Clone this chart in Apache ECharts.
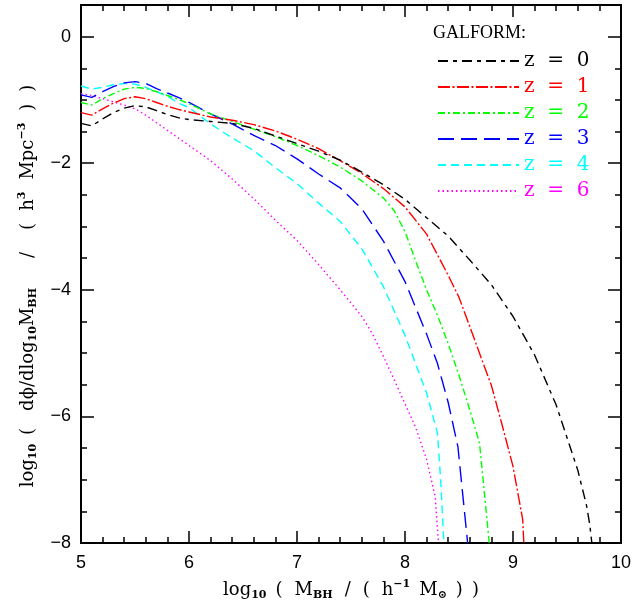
<!DOCTYPE html>
<html>
<head>
<meta charset="utf-8">
<script src="https://cdn.jsdelivr.net/npm/echarts@6/dist/echarts.min.js"></script>
<style>html,body{margin:0;padding:0;background:#fff;}#c{width:644px;height:601px;}</style>
</head>
<body>
<div id="c"></div>
<script>
// log10 M_BH values and log10 mass function values, per redshift
const xZ0 = [5.0,5.1,5.2,5.3,5.4,5.5,5.6,5.7,5.8,5.9,6.0,6.2,6.4,6.6,6.8,7.0,7.2,7.4,7.6,7.8,8.0,8.2,8.4,8.6,8.8,9.0,9.2,9.4,9.6,9.68,9.71,9.73];
const yZ0 = [-1.37,-1.41,-1.30,-1.20,-1.13,-1.09,-1.11,-1.17,-1.23,-1.28,-1.31,-1.34,-1.37,-1.45,-1.57,-1.69,-1.81,-1.95,-2.14,-2.34,-2.57,-2.86,-3.15,-3.53,-3.92,-4.42,-5.03,-5.82,-6.85,-7.4,-7.7,-8.0];

const xZ1 = [5.0,5.1,5.2,5.3,5.4,5.5,5.6,5.7,5.8,5.9,6.0,6.2,6.4,6.6,6.8,7.0,7.2,7.4,7.6,7.8,8.0,8.2,8.4,8.5,8.6,8.7,8.8,8.9,9.0,9.09,9.10];
const yZ1 = [-1.20,-1.24,-1.14,-1.05,-0.98,-0.95,-0.98,-1.04,-1.10,-1.15,-1.19,-1.27,-1.32,-1.39,-1.49,-1.62,-1.77,-1.96,-2.16,-2.40,-2.69,-3.12,-3.77,-4.12,-4.58,-5.05,-5.51,-6.14,-6.79,-7.63,-8.0];

const xZ2 = [5.0,5.1,5.2,5.3,5.4,5.5,5.6,5.7,5.8,5.9,6.0,6.2,6.4,6.6,6.8,7.0,7.2,7.4,7.6,7.8,7.9,8.0,8.1,8.2,8.3,8.4,8.5,8.6,8.69,8.78];
const yZ2 = [-1.04,-1.08,-0.98,-0.90,-0.83,-0.80,-0.82,-0.87,-0.93,-0.99,-1.06,-1.22,-1.34,-1.46,-1.58,-1.72,-1.88,-2.06,-2.28,-2.55,-2.75,-3.08,-3.55,-4.0,-4.4,-4.85,-5.35,-5.9,-6.42,-8.0];

const xZ3 = [5.0,5.1,5.2,5.3,5.4,5.5,5.6,5.7,5.8,5.9,6.0,6.2,6.4,6.6,6.8,7.0,7.2,7.4,7.6,7.8,8.0,8.2,8.3,8.4,8.49,8.58];
const yZ3 = [-0.92,-0.96,-0.87,-0.79,-0.73,-0.71,-0.74,-0.82,-0.89,-0.96,-1.04,-1.22,-1.38,-1.56,-1.72,-1.93,-2.17,-2.39,-2.72,-3.23,-3.87,-4.70,-5.16,-5.78,-6.48,-8.0];

const xZ4 = [5.0,5.1,5.2,5.3,5.4,5.5,5.6,5.7,5.8,5.9,6.0,6.2,6.4,6.6,6.8,7.0,7.2,7.4,7.6,7.8,8.0,8.2,8.3,8.33,8.36];
const yZ4 = [-0.78,-0.83,-0.80,-0.76,-0.74,-0.75,-0.80,-0.87,-0.94,-1.05,-1.12,-1.38,-1.60,-1.80,-2.07,-2.32,-2.63,-2.92,-3.35,-3.95,-4.72,-5.63,-6.26,-7.0,-8.0];

const xZ6 = [5.0,5.1,5.2,5.3,5.4,5.5,5.6,5.7,5.8,5.9,6.0,6.2,6.4,6.6,6.8,7.0,7.2,7.4,7.6,7.7,7.8,7.9,8.0,8.1,8.2,8.28,8.31];
const yZ6 = [-0.90,-0.93,-0.98,-1.03,-1.08,-1.14,-1.24,-1.36,-1.48,-1.60,-1.72,-1.96,-2.25,-2.56,-2.90,-3.22,-3.6,-4.0,-4.42,-4.7,-5.05,-5.42,-5.8,-6.18,-6.68,-7.27,-8.0];

const seriesNames = ['z  =  0','z  =  1','z  =  2','z  =  3','z  =  4','z  =  6'];
const seriesX = [xZ0, xZ1, xZ2, xZ3, xZ4, xZ6];
const seriesY = [yZ0, yZ1, yZ2, yZ3, yZ4, yZ6];
const xTicks = [5, 6, 7, 8, 9, 10];
const yTicks = [-8, -6, -4, -2, 0];

const colors = ['#000000','#ff0000','#00ff00','#0000ff','#00ffff','#ff00ff'];
const dashes = [[10,5,4,5],[12,2.5,2,2.5],[7,3,2,3],[16,7],[8,5],[1.5,3]];

const chart = echarts.init(document.getElementById('c'), null, {renderer:'canvas'});

const SERIF = '"DejaVu Serif", "Liberation Serif", serif';
const LSERIF = '"Liberation Serif", serif';
const SANS = '"Liberation Sans", Arial, sans-serif';

function fmtMinus(v){ return String(v).replace('-', '\u2212'); }

const series = seriesNames.map((n,i)=>({
  name: n,
  type: 'line',
  xAxisIndex: 0,
  yAxisIndex: 0,
  data: seriesX[i].map((x,k)=>[x, seriesY[i][k]]),
  showSymbol: false,
  symbol: 'none',
  smooth: false,
  clip: true,
  lineStyle: {color: colors[i], width: 1.4, type: dashes[i]},
  itemStyle: {color: colors[i]},
  z: 10 - i,
  animation: false
}));

const axLine = {show:true, onZero:false, lineStyle:{color:'#000', width:2}};
const richName = {
  n:{fontFamily:SERIF, fontSize:18, color:'#000', lineHeight:22, verticalAlign:'middle'},
  s:{fontFamily:SERIF, fontSize:11, color:'#000', fontWeight:'bold', lineHeight:12, verticalAlign:'bottom'},
  p:{fontFamily:SERIF, fontSize:11, color:'#000', fontWeight:'bold', lineHeight:12, verticalAlign:'top'},
  a:{width:9}, b:{width:17}, c:{width:30}, d:{width:22}, e:{width:12}, f:{width:12}
};

const option = {
  animation: false,
  backgroundColor: '#fff',
  title: {
    text: 'GALFORM:', left: 433, top: 24, padding: 0,
    textStyle: {fontFamily: LSERIF, fontSize: 18, fontWeight: 'normal', color: '#000'}
  },
  legend: {
    orient: 'vertical', left: 432, top: 46,
    itemWidth: 81, itemHeight: 14, itemGap: 6,
    data: seriesNames.map((n,i)=>({name:n, textStyle:{color:colors[i]}})),
    textStyle: {fontFamily: '"DejaVu Serif", serif', fontSize: 20, padding:[0,0,0,0]},
    itemStyle: {opacity: 0},
    selectedMode: false
  },
  grid: {left: 81, top: 5, width: 540, height: 538, containLabel: false, outerBoundsMode: 'none'},
  xAxis: [
    {type:'value', min:5, max:10, interval:1, position:'bottom',
     axisLine: axLine,
     axisTick: {show:true, inside:true, length:12, lineStyle:{width:1.5,color:'#000'}},
     minorTick: {show:true, splitNumber:5, length:6, lineStyle:{width:1.5,color:'#000'}},
     splitLine:{show:false}, minorSplitLine:{show:false},
     axisLabel: {show:true, margin:11, fontFamily:SANS, fontSize:18, color:'#000', formatter: (v)=>xTicks.includes(v)?fmtMinus(v):''},
     name: '{n|log}{s|10}{a| }{n|(}{f| }{n|M}{s|BH}{f| }{n|/}{f| }{n|(}{f| }{n|h}{p|\u22121}{a| }{n|M}{s|\u2299}{a| }{n|)}{a| }{n|)}',
     nameLocation:'middle', nameGap: 36,
     nameTextStyle: {fontFamily:SERIF, fontSize:18, color:'#000', rich: richName}
    },
    {type:'value', min:5, max:10, interval:1, position:'top',
     axisLine: axLine,
     axisTick: {show:true, inside:true, length:12, lineStyle:{width:1.5,color:'#000'}},
     minorTick: {show:true, splitNumber:5, length:6, lineStyle:{width:1.5,color:'#000'}},
     splitLine:{show:false}, axisLabel:{show:false}}
  ],
  yAxis: [
    {type:'value', min:-8, max:0.5, interval:2, position:'left',
     axisLine: axLine,
     axisTick: {show:true, inside:true, length:13, lineStyle:{width:1.5,color:'#000'}},
     splitLine:{show:false},
     axisLabel: {show:true, margin:10, fontFamily:SANS, fontSize:18, color:'#000', formatter:(v)=>yTicks.includes(v)?fmtMinus(v):''},
     name: '{n|log}{s|10}{a| }{n|(}{b| }{n|d\u03d5/dlog}{s|10}{n|M}{s|BH}{c| }{n|/}{d| }{n|(}{e| }{n|h}{p|3}{e| }{n|Mpc}{p|\u22123}{e| }{n|)}{e| }{n|)}',
     nameLocation:'middle', nameGap: 42,
     nameTextStyle: {fontFamily:SERIF, fontSize:18, color:'#000', padding:[0,24,0,0], rich: richName}
    },
    {type:'value', min:-8, max:0.5, interval:0.5, position:'left',
     axisLine: axLine,
     axisTick: {show:true, inside:true, length:6, lineStyle:{width:1.5,color:'#000'}},
     splitLine:{show:false}, axisLabel:{show:false}},
    {type:'value', min:-8, max:0.5, interval:2, position:'right',
     axisLine: axLine,
     axisTick: {show:true, inside:true, length:13, lineStyle:{width:1.5,color:'#000'}},
     splitLine:{show:false}, axisLabel:{show:false}},
    {type:'value', min:-8, max:0.5, interval:0.5, position:'right',
     axisLine: axLine,
     axisTick: {show:true, inside:true, length:6, lineStyle:{width:1.5,color:'#000'}},
     splitLine:{show:false}, axisLabel:{show:false}}
  ],
  series: series
};
chart.setOption(option);
</script>
</body>
</html>
